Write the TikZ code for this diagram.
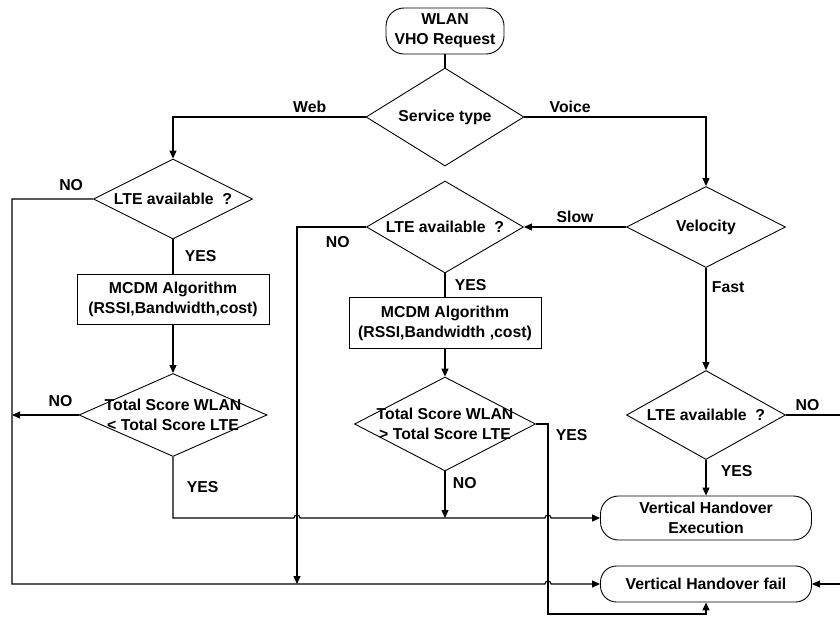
\documentclass[tikz,border=0pt]{standalone}
\usepackage{fontspec}
\setmainfont{Liberation Sans}
\usetikzlibrary{shapes.geometric,arrows.meta,calc,positioning}

\begin{document}
\begin{tikzpicture}[x=1pt,y=1pt,font=\fontsize{15.8}{20}\selectfont\bfseries]
\tikzset{line/.style={draw=black,line width=1.1pt}}
\tikzset{arrow/.style={draw=black,line width=1.1pt,-{Triangle[length=8pt,width=7pt]}}}
\tikzset{decision/.style={draw=black,diamond,line width=0.9pt,inner sep=0pt,anchor=center}}
\tikzset{process/.style={draw=black,rectangle,line width=0.9pt,minimum width=192pt,align=center,anchor=center}}
\tikzset{terminal/.style={draw=black,rectangle,rounded corners=18pt,line width=0.9pt,inner sep=0pt,align=center,anchor=center}}

\useasboundingbox (0,0) rectangle (840,-619);
\clip (0,0) rectangle (840,-619);

\node[terminal,minimum width=118pt,minimum height=46pt] (start) at (445,-31) {WLAN\\VHO Request};
\node[decision,minimum width=158pt,minimum height=98pt,label={center:Service type}] (svc) at (445,-117) {};

\node[decision,minimum width=159pt,minimum height=80pt,label={center:LTE available\ \ ?}] (lteA) at (173,-199) {};
\node[process,minimum height=50pt] (mcdmA) at (173,-299) {MCDM Algorithm\\(RSSI,Bandwidth,cost)};
\node[decision,minimum width=188pt,minimum height=83pt,label={[align=center]center:Total Score WLAN\\< Total Score LTE}] (totA) at (173,-415) {};

\node[decision,minimum width=157pt,minimum height=92pt,label={center:LTE available\ \ ?}] (lteB) at (445,-227) {};
\node[process,minimum height=51pt] (mcdmB) at (445,-323) {MCDM Algorithm\\(RSSI,Bandwidth ,cost)};
\node[decision,minimum width=181pt,minimum height=94pt,label={[align=center]center:Total Score WLAN\\> Total Score LTE}] (totB) at (445,-424) {};

\node[decision,minimum width=159pt,minimum height=81pt,label={center:Velocity}] (vel) at (706,-227) {};
\node[decision,minimum width=159pt,minimum height=89pt,label={center:LTE available\ \ ?}] (lteC) at (706,-415) {};

\node[terminal,minimum width=211pt,minimum height=44pt] (exe) at (706,-518) {Vertical Handover\\Execution};
\node[terminal,minimum width=211pt,minimum height=36pt,rounded corners=16pt] (fail) at (706,-584) {Vertical Handover fail};

\coordinate (bendA) at (12,-199);
\coordinate (bendB) at (297,-227);
\coordinate (bendC) at (548,-424);
\coordinate (bendD) at (846,-415);
\coordinate (bendE) at (548,-614);

\path[line] (start.south) -- (svc.north);
\path[arrow] (svc.west) -| node[pos=0.145,above]{Web} (lteA.north);
\path[arrow] (svc.east) -| node[pos=0.126,above]{Voice} (vel.north);

\path[arrow] (lteA.west) -- node[pos=0.27,above=4pt]{NO} (bendA) -- (bendA |- fail.west) -- ($(bendC |- fail.west)+(-3,0)$) arc[start angle=180,end angle=0,radius=3] -- (fail.west);
\path[line] (lteA.south) -- node[right=8pt]{YES} (mcdmA.north);
\path[arrow] (mcdmA.south) -- (totA.north);
\path[arrow] (totA.west) -- node[pos=0.27,above=4pt]{NO} (totA.west -| bendA);
\path[arrow] (totA.south) -- node[right=10pt]{YES} (totA.south |- exe.west) -- ($(bendB |- exe.west)+(-3,0)$) arc[start angle=180,end angle=0,radius=3] -- ($(bendC |- exe.west)+(-3,0)$) arc[start angle=180,end angle=0,radius=3] -- (exe.west);

\path[arrow] (vel.west) -- node[above]{Slow} (lteB.east);
\path[arrow] (lteB.west) -- node[pos=0.41,below=6pt]{NO} (bendB) -- (bendB |- fail.west);
\path[line] (lteB.south) -- node[right=6pt]{YES} (mcdmB.north);
\path[arrow] (mcdmB.south) -- (totB.north);
\path[arrow] (totB.south) -- node[pos=0.25,right=4pt]{NO} (totB.south |- exe.west);
\path[arrow] (totB.east) -- (bendC) node[below right=2pt and 4pt]{YES} -- (bendE) -| (fail.south);

\path[arrow] (vel.south) -- node[pos=0.19,right=2pt]{Fast} (lteC.north);
\path[arrow] (lteC.east) -- node[pos=0.36,above]{NO} (bendD) |- (fail.east);
\path[arrow] (lteC.south) -- node[pos=0.3,right=11pt]{YES} (exe.north);
\end{tikzpicture}
\end{document}
